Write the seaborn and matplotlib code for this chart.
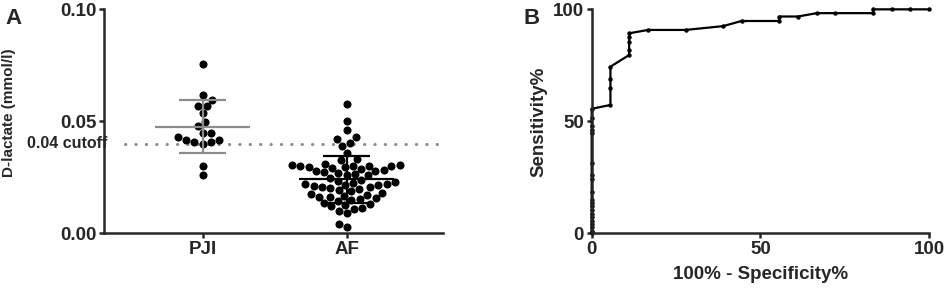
import numpy as np
import pandas as pd
import seaborn as sns
import matplotlib.pyplot as plt

# Panel A: D-lactate (mmol/l) per group
groups = ["PJI", "AF"]
pji_values = [0.0758, 0.0619, 0.0597, 0.0568, 0.0568, 0.0537, 0.0497, 0.0478,
              0.0448, 0.0448, 0.0430, 0.0418, 0.0408, 0.0399, 0.0408, 0.0418,
              0.0300, 0.0259]
af_values = [0.0579, 0.0500, 0.0460, 0.0428, 0.0420, 0.0402, 0.0390,
             0.0360, 0.0332, 0.0328, 0.0308, 0.0305, 0.0303, 0.0302, 0.0301,
             0.0300, 0.0300,
             0.0298, 0.0295, 0.0292, 0.0288, 0.0284, 0.0280, 0.0276, 0.0272,
             0.0268, 0.0265, 0.0262, 0.0260,
             0.0245, 0.0240, 0.0232, 0.0228, 0.0225, 0.0222, 0.0220, 0.0217,
             0.0214, 0.0211, 0.0208, 0.0205, 0.0202, 0.0199, 0.0195, 0.0190,
             0.0180, 0.0176, 0.0172, 0.0168, 0.0164, 0.0160, 0.0156, 0.0152,
             0.0148, 0.0144,
             0.0135, 0.0130, 0.0125, 0.0120, 0.0115, 0.0110, 0.0101, 0.0090,
             0.0041, 0.0030]
cutoff = 0.04
y_ticks = [0.00, 0.05, 0.10]

# Panel B: ROC curve
fpr = [0, 0, 0, 0, 0, 0, 0, 0, 0, 0, 0, 0, 0, 0, 0, 0, 0, 0, 0, 0,
       5.56, 5.56, 5.56, 5.56, 11.1, 11.1, 11.1, 11.1, 11.1,
       16.7, 27.8, 38.9, 44.4, 55.6, 55.6, 61.1, 66.7, 72.2, 83.3, 83.3,
       88.9, 94.4, 100]
tpr = [0, 1.2, 2.7, 4.2, 5.7, 7.3, 8.8, 10.5, 12.0, 13.5, 15.0, 18.5, 24.3,
       26.0, 31.3, 44.8, 46.2, 47.7, 51.5, 55.6,
       57.3, 64.7, 68.8, 74.4, 79.6, 81.8, 85.5, 87.5, 89.3,
       90.8, 90.8, 92.5, 94.8, 94.8, 96.8, 96.8, 98.3, 98.3, 98.3, 100,
       100, 100, 100]
roc_ticks = [0, 50, 100]

sns.set_style("ticks")
plt.rcParams["font.family"] = ["Liberation Sans", "DejaVu Sans"]
plt.rcParams["font.weight"] = "bold"

df = pd.DataFrame({
    "group": ["PJI"] * len(pji_values) + ["AF"] * len(af_values),
    "value": pji_values + af_values,
})

fig = plt.figure(figsize=(9.45, 2.92), dpi=100)
ax1 = fig.add_axes([0.1101, 0.201, 0.3587, 0.767])
ax2 = fig.add_axes([0.6261, 0.201, 0.3572, 0.767])

# ---- Panel A ----
sns.swarmplot(data=df, x="group", y="value", order=groups, color="black",
              size=5.8, ax=ax1, zorder=2)

stats = df.groupby("group")["value"].agg(["mean", "std"])
line_colors = {"PJI": "#8c8c8c", "AF": "black"}
for i, g in enumerate(groups):
    m, s = stats.loc[g, "mean"], stats.loc[g, "std"]
    c = line_colors[g]
    ax1.hlines(m, i - 0.33, i + 0.33, color=c, lw=1.6, zorder=3)
    ax1.hlines([m - s, m + s], i - 0.165, i + 0.165, color=c, lw=1.6, zorder=3)
    ax1.vlines(i, m - s, m + s, color=c, lw=1.6, zorder=3)

ax1.axhline(cutoff, xmin=0.062, xmax=0.99, color="#8c8c8c", lw=2.2,
            linestyle=(0, (0.1, 3.3)), dash_capstyle="round", zorder=1)
ax1.text(0.01, cutoff, "0.04 cutoff", transform=ax1.get_yaxis_transform(),
         ha="right", va="center", fontsize=11.5, fontweight="bold")

ax1.set_xlim(-0.685, 1.669)
ax1.set_ylim(0, 0.10)
ax1.set_yticks(y_ticks)
ax1.set_yticklabels([f"{t:.2f}" for t in y_ticks])
ax1.set_xlabel("")
ax1.set_ylabel("D-lactate (mmol/l)", fontsize=11, fontweight="bold")
ax1.yaxis.set_label_coords(-0.26, 0.537)
sns.despine(ax=ax1)

# ---- Panel B ----
sns.lineplot(x=fpr, y=tpr, estimator=None, sort=False, color="black", lw=1.6,
             marker="o", markersize=3.2, markeredgewidth=0, ax=ax2, clip_on=False)
ax2.set_xlim(0, 100)
ax2.set_ylim(0, 100)
ax2.set_xticks(roc_ticks)
ax2.set_yticks(roc_ticks)
ax2.set_xlabel("100% - Specificity%", fontsize=13.5, fontweight="bold", labelpad=6)
ax2.set_ylabel("Sensitivity%", fontsize=13.5, fontweight="bold", labelpad=4)
sns.despine(ax=ax2)

for ax in (ax1, ax2):
    for side in ("left", "bottom"):
        ax.spines[side].set_linewidth(1.8)
    ax.tick_params(width=1.8, length=3.6, pad=2, labelsize=13.5)
    for lab in ax.get_xticklabels() + ax.get_yticklabels():
        lab.set_fontweight("bold")

fig.text(0.006, 0.935, "A", fontsize=16, fontweight="bold", va="center")
fig.text(0.554, 0.935, "B", fontsize=16, fontweight="bold", va="center")

fig.savefig("out.png", dpi=100)
